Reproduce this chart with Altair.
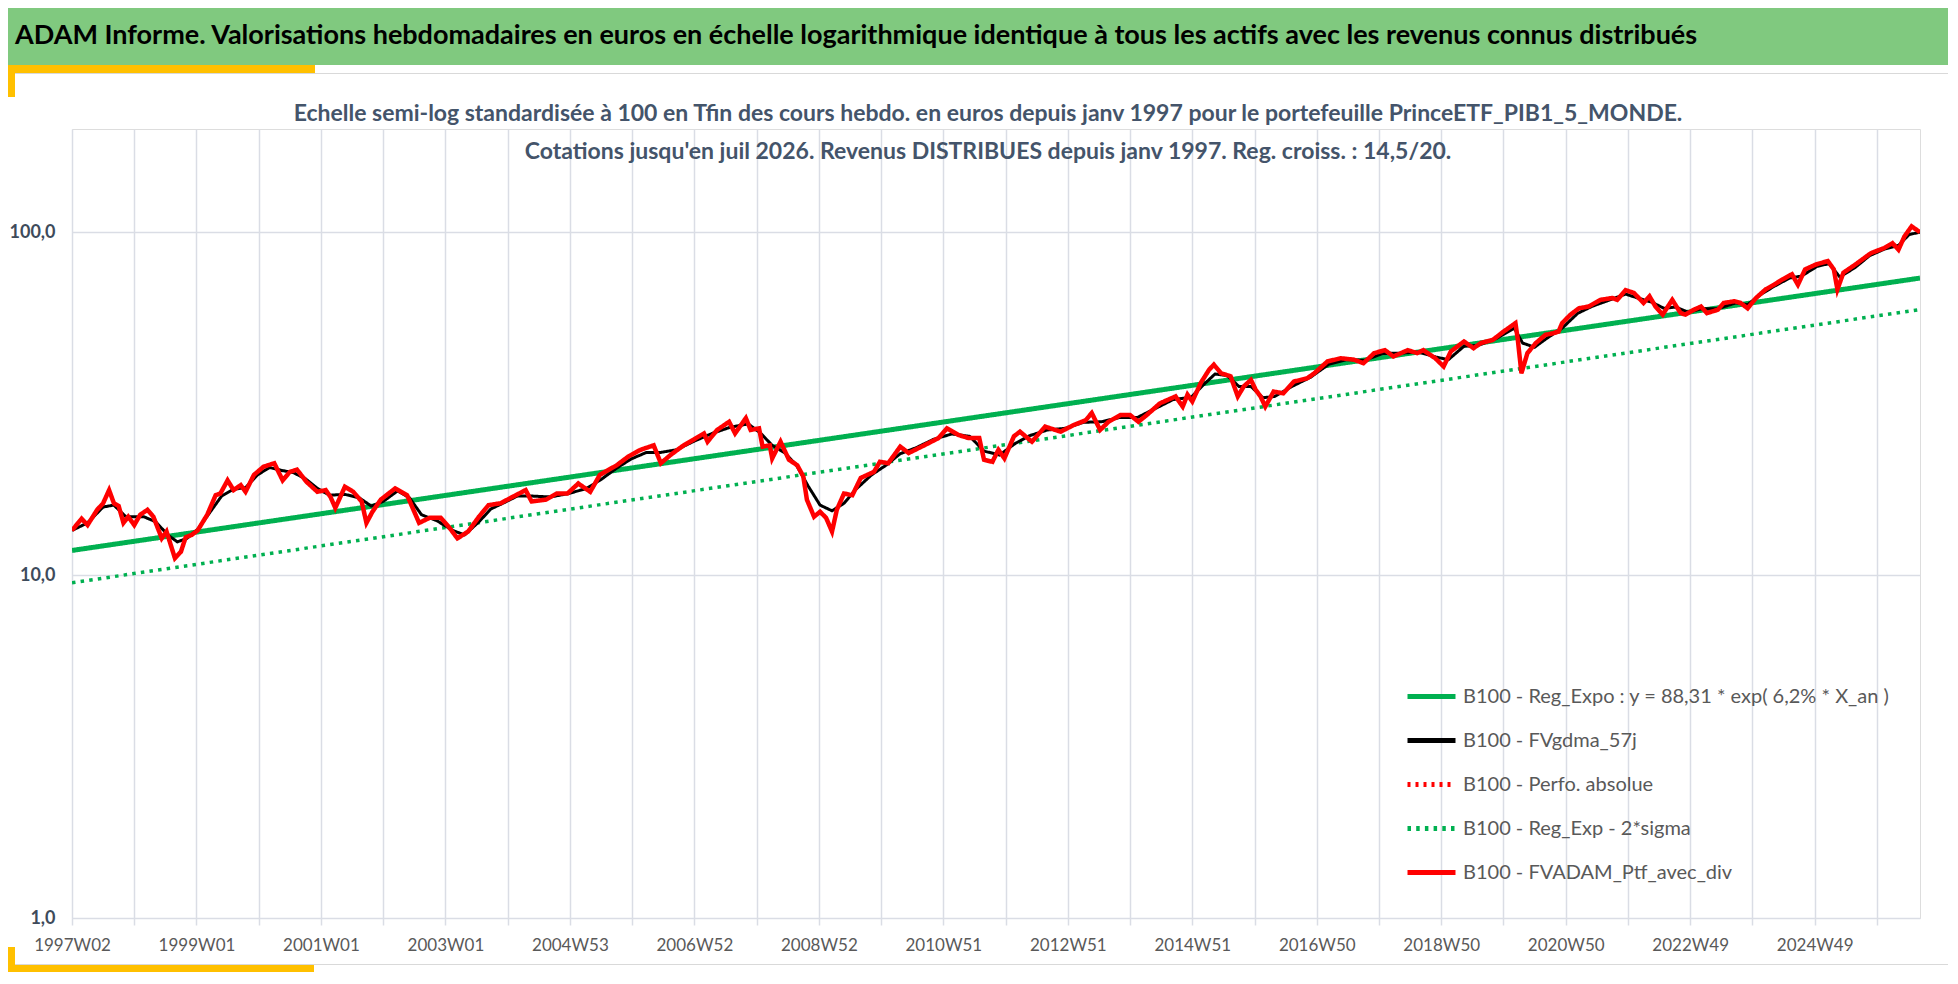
import json
import altair as alt
import pandas as pd

FONT = "Lato, Roboto, sans-serif"

header_text = "ADAM Informe. Valorisations hebdomadaires en euros en échelle logarithmique identique à tous les actifs avec les revenus connus distribués"
subtitle_lines = [
    "Echelle semi-log standardisée  à 100 en Tfin des cours hebdo.  en euros depuis janv 1997 pour le portefeuille PrinceETF_PIB1_5_MONDE.",
    "Cotations  jusqu'en juil 2026. Revenus DISTRIBUES depuis janv 1997. Reg. croiss. : 14,5/20.",
]

tick_labels = ["1997W02", "1999W01", "2001W01", "2003W01", "2004W53", "2006W52", "2008W52",
               "2010W51", "2012W51", "2014W51", "2016W50", "2018W50", "2020W50", "2022W49", "2024W49"]

series_names = [
    "B100 - Reg_Expo : y = 88,31 * exp( 6,2% *  X_an )",
    "B100 - FVgdma_57j",
    "B100 - Perfo. absolue",
    "B100 - Reg_Exp - 2*sigma",
    "B100 - FVADAM_Ptf_avec_div",
]
series_colors = ["#00B050", "#000000", "#FF0000", "#00B050", "#FF0000"]
series_dashes = [[1, 0], [1, 0], [3, 5], [3.5, 5.2], [1, 0]]

# weekly index since 1997W02
red_weeks = [0, 8, 13, 21, 26, 31, 35, 39, 43, 47, 52, 57, 63, 68, 75, 79, 86, 91, 95, 100,
             105, 113, 120, 124, 130, 135, 141, 145, 152, 160, 169, 176, 182, 188, 196, 205, 212, 216, 220, 228,
             235, 242, 246, 251, 258, 270, 280, 290, 299, 308, 315, 322, 331, 340, 348, 358, 368, 379, 384, 396,
             405, 414, 423, 433, 441, 455, 465, 475, 486, 492, 500, 511, 519, 528, 531, 539, 549, 554, 563, 567,
             574, 577, 583, 585, 592, 599, 606, 611, 614, 620, 625, 630, 635, 639, 645, 652, 659, 670, 675, 682,
             692, 699, 712, 724, 731, 741, 749, 758, 762, 769, 774, 779, 787, 792, 802, 813, 826, 837, 847, 852,
             859, 866, 876, 884, 891, 898, 909, 922, 928, 932, 936, 943, 950, 954, 960, 968, 974, 979, 985, 989,
             993, 997, 1004, 1012, 1021, 1032, 1038, 1049, 1060, 1071, 1079, 1088, 1097, 1104, 1116, 1124, 1129, 1139, 1146, 1152,
             1163, 1171, 1177, 1187, 1196, 1206, 1208, 1211, 1216, 1223, 1231, 1237, 1242, 1245, 1252, 1259, 1267, 1277, 1287, 1291,
             1298, 1305, 1313, 1318, 1323, 1329, 1337, 1344, 1348, 1355, 1361, 1366, 1375, 1380, 1389, 1394, 1400, 1407, 1415, 1422,
             1429, 1437, 1442, 1448, 1457, 1467, 1472, 1475, 1480, 1490, 1503, 1514, 1521, 1526, 1531, 1537, 1544]
red_values = [13.5, 14.6, 14.0, 15.5, 16.2, 17.7, 16.2, 15.9, 14.2, 14.8, 14.0, 15.0, 15.5, 14.8, 12.8, 13.4, 11.2, 11.7, 12.9, 13.1,
              13.5, 15.0, 17.1, 17.3, 18.9, 17.7, 18.3, 17.5, 19.6, 20.7, 21.2, 18.9, 20.0, 20.3, 18.7, 17.5, 17.7, 16.9, 15.7, 18.1,
              17.5, 16.4, 14.2, 15.3, 16.6, 17.9, 17.1, 14.2, 14.7, 14.7, 13.8, 12.8, 13.4, 14.8, 16.0, 16.2, 16.9, 17.7, 16.4, 16.6,
              17.3, 17.3, 18.5, 17.5, 19.6, 20.9, 22.2, 23.2, 23.9, 21.2, 22.4, 23.9, 24.8, 25.9, 24.5, 26.5, 28.0, 25.9, 28.7, 26.5,
              26.8, 23.7, 23.9, 21.9, 24.5, 21.7, 20.9, 19.4, 16.6, 14.8, 15.3, 14.7, 13.4, 15.5, 17.3, 17.1, 19.2, 20.0, 21.4, 21.2,
              23.7, 22.7, 23.9, 25.1, 26.8, 25.6, 25.1, 25.1, 21.7, 21.4, 23.2, 21.9, 25.4, 26.2, 24.5, 27.1, 26.2, 27.4, 28.3, 29.7,
              26.5, 28.0, 29.3, 29.3, 28.0, 29.3, 31.7, 33.2, 31.0, 33.6, 32.1, 36.3, 39.7, 41.1, 38.8, 38.0, 33.2, 35.5, 37.1, 34.7,
              33.2, 31.0, 34.3, 33.9, 36.7, 37.5, 38.8, 42.0, 42.9, 42.5, 41.5, 44.4, 45.3, 43.4, 45.3, 44.4, 45.3, 42.9, 40.6, 44.9,
              48.0, 45.9, 47.5, 48.5, 51.3, 54.3, 48.5, 38.8, 44.4, 47.5, 50.2, 50.7, 51.3, 54.3, 57.5, 60.0, 60.7, 63.5, 64.3, 63.5,
              67.8, 66.5, 62.2, 65.0, 60.7, 57.5, 63.5, 58.1, 57.5, 59.4, 60.7, 58.1, 59.4, 62.2, 62.9, 62.2, 60.0, 64.3, 68.1, 70.3,
              72.8, 75.4, 70.3, 77.9, 80.5, 82.4, 77.9, 68.1, 76.2, 80.5, 86.9, 89.9, 92.9, 88.9, 97.2, 104.0, 100.0]

ma_weeks = [0, 13, 26, 35, 45, 60, 70, 80, 88, 96, 105, 115, 125, 135, 145, 155, 165, 175, 185, 195,
            205, 215, 228, 240, 250, 260, 272, 282, 292, 305, 318, 328, 340, 350, 360, 372, 385, 400, 415, 430,
            442, 455, 467, 480, 492, 505, 520, 535, 550, 565, 575, 585, 595, 605, 615, 625, 635, 645, 655, 668,
            680, 692, 705, 720, 735, 750, 762, 775, 788, 800, 815, 830, 845, 860, 875, 890, 905, 920, 935, 945,
            955, 965, 975, 985, 995, 1005, 1020, 1035, 1050, 1065, 1080, 1095, 1110, 1125, 1140, 1150, 1163, 1175, 1190, 1205,
            1212, 1222, 1232, 1245, 1258, 1270, 1285, 1298, 1310, 1320, 1330, 1340, 1350, 1362, 1375, 1390, 1400, 1410, 1422, 1435,
            1445, 1458, 1468, 1477, 1490, 1502, 1515, 1526, 1535, 1544]
ma_values = [13.5, 14.2, 15.8, 16.0, 14.8, 14.8, 14.3, 13.1, 12.5, 12.8, 13.6, 15.2, 17.0, 17.8, 18.0, 19.6, 20.6, 20.2, 19.9, 19.1,
             17.9, 17.1, 17.2, 16.8, 15.9, 16.4, 17.6, 16.8, 15.0, 14.4, 13.5, 13.1, 14.3, 15.6, 16.2, 17.0, 17.0, 16.9, 17.3, 17.9,
             19.0, 20.5, 21.8, 22.8, 22.8, 23.2, 24.6, 25.9, 27.0, 27.6, 26.0, 23.9, 22.8, 21.0, 18.2, 16.0, 15.4, 16.2, 17.8, 19.6,
             20.9, 22.6, 23.5, 24.9, 25.8, 25.4, 23.0, 22.4, 24.2, 25.5, 26.5, 26.8, 27.9, 28.0, 28.8, 28.8, 30.6, 32.5, 33.0, 35.8,
             38.6, 38.2, 35.5, 35.5, 32.9, 33.2, 35.6, 37.8, 41.2, 42.5, 42.3, 44.3, 44.4, 44.7, 43.2, 42.5, 46.5, 46.8, 49.0, 52.5,
             47.5, 46.2, 49.0, 52.5, 58.0, 60.8, 63.5, 66.0, 64.0, 62.5, 60.0, 60.5, 58.5, 59.8, 59.8, 62.2, 61.5, 65.5, 69.5, 73.5,
             74.5, 79.5, 81.0, 74.0, 79.0, 85.5, 89.5, 91.5, 98.5, 100.0]

reg_weeks = [0, 1544]
reg_values = [11.8, 73.5]
sig_values = [9.5, 59.5]

rows = []
for w, v in zip(reg_weeks, reg_values):
    rows.append({"week": w, "value": v, "series": series_names[0]})
for w, v in zip(ma_weeks, ma_values):
    rows.append({"week": w, "value": v, "series": series_names[1]})
for w, v in zip(red_weeks, red_values):
    rows.append({"week": w, "value": v, "series": series_names[2]})
for w, v in zip(reg_weeks, sig_values):
    rows.append({"week": w, "value": v, "series": series_names[3]})
for w, v in zip(red_weeks, red_values):
    rows.append({"week": w, "value": v, "series": series_names[4]})
df = pd.DataFrame(rows)

GRID = "#DADDE5"
W, H = 1848, 789

legend = alt.Legend(title=None, orient="none", legendX=1333, legendY=541, symbolType="stroke",
                    symbolSize=2304, symbolStrokeWidth=5, labelFontSize=20, labelColor="#595959",
                    labelFont=FONT, rowPadding=7, labelOffset=5, labelLimit=0, padding=0,
                    direction="vertical")

x_enc = alt.X("week:Q", scale=alt.Scale(domain=[0, 1544], nice=False, zero=False),
              axis=alt.Axis(values=list(range(0, 1509, 52)),
                            labelExpr="datum.value % 104 === 0 ? " + json.dumps(tick_labels) + "[datum.value / 104] : ''",
                            title=None, grid=True, gridColor=GRID, gridWidth=1.5, ticks=True, tickSize=7,
                            tickColor=GRID, tickWidth=1.5, domain=False, labelPadding=12, labelFontSize=17,
                            labelColor="#595959", labelFont=FONT, labelOverlap=False, labelFlush=False,
                            labelBound=False))
y_enc = alt.Y("value:Q", scale=alt.Scale(type="log", domain=[1, 200], nice=False),
              axis=alt.Axis(values=[1, 10, 100], labelExpr="replace(format(datum.value, '.1f'), '.', ',')",
                            title=None, grid=True, gridColor=GRID, gridWidth=1.5, ticks=False, domain=False,
                            labelPadding=17, labelFontSize=18, labelFontWeight="bold", labelColor="#3E4B5B",
                            labelFont=FONT))
color_enc = alt.Color("series:N", scale=alt.Scale(domain=series_names, range=series_colors), legend=legend)
dash_enc = alt.StrokeDash("series:N", scale=alt.Scale(domain=series_names, range=series_dashes), legend=legend)

base = alt.Chart(df).encode(x=x_enc, y=y_enc, color=color_enc, strokeDash=dash_enc)

def line_layer(idx, width):
    return base.transform_filter(alt.datum.series == series_names[idx]).mark_line(strokeWidth=width, clip=True)

lines = [line_layer(0, 5), line_layer(3, 3.5), line_layer(1, 3), line_layer(2, 3), line_layer(4, 4.5)]

one = alt.Data(values=[{"k": 1}])

def deco_rect(x1, x2, y1, y2, color):
    return alt.Chart(one).mark_rect(color=color).encode(
        x=alt.value(x1), x2=alt.value(x2), y=alt.value(y1), y2=alt.value(y2))

decor = [
    deco_rect(-64, 1876, -121, -64, "#80C97F"),
    deco_rect(-57, 1876, -56, -55, "#D9D9D9"),
    deco_rect(-64, 243, -64, -56, "#FFC000"),
    deco_rect(-64, -57, -64, -32, "#FFC000"),
    deco_rect(-57, 1876, 835, 836, "#D9D9D9"),
    deco_rect(-64, 242, 836, 843, "#FFC000"),
    deco_rect(-64, -57, 818, 843, "#FFC000"),
]

header = alt.Chart(one).mark_text(text=header_text, align="left", baseline="middle", font=FONT,
                                  fontSize=27, fontWeight="bold", color="#000000").encode(
    x=alt.value(-57), y=alt.value(-93))

subtitle = alt.Chart(one).mark_text(text=subtitle_lines, align="center", baseline="middle", font=FONT,
                                    fontSize=23, fontWeight="bold", color="#44546A", lineHeight=38).encode(
    x=alt.value(916), y=alt.value(-15))

chart = alt.layer(*decor, *lines, header, subtitle).properties(
    width=W, height=H,
    autosize=alt.AutoSizeParams(type="none"),
    padding={"left": 64, "top": 121, "right": 28, "bottom": 54},
).configure_view(stroke=None).configure(background="white")

chart.save("out.html", embed_options={"renderer": "svg", "actions": False})
